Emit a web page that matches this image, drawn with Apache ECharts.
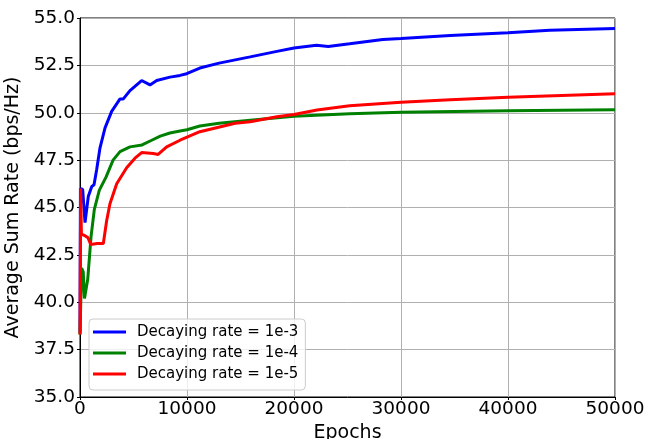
<!DOCTYPE html>
<html>
<head>
<meta charset="utf-8">
<script src="https://cdn.jsdelivr.net/npm/echarts@6/dist/echarts.min.js"></script>
<style>
html,body{margin:0;padding:0;background:#fff;}
#chart{width:657px;height:439px;}
</style>
</head>
<body>
<div id="chart"></div>
<script>
const seriesNames = ['Decaying rate = 1e-3', 'Decaying rate = 1e-4', 'Decaying rate = 1e-5'];
const xTicks = [0, 10000, 20000, 30000, 40000, 50000];
const yTicks = [35.0, 37.5, 40.0, 42.5, 45.0, 47.5, 50.0, 52.5, 55.0];

const blueEpochs = [0, 40, 250, 470, 780, 1090, 1310, 1560, 1870, 2340, 2960, 3740, 4050, 4670, 5760, 6540, 7170, 8410, 9350, 9970, 11200, 13000, 15900, 18400, 20000, 22100, 23200, 25200, 28300, 30000, 34600, 40000, 43900, 50000];
const blueValues = [38.4, 46.0, 45.95, 44.2, 45.6, 46.1, 46.2, 47.0, 48.15, 49.2, 50.07, 50.73, 50.73, 51.17, 51.7, 51.47, 51.7, 51.88, 51.97, 52.06, 52.36, 52.62, 52.95, 53.24, 53.42, 53.56, 53.5, 53.64, 53.87, 53.92, 54.08, 54.22, 54.35, 54.45];

const greenEpochs = [0, 150, 300, 420, 550, 720, 1030, 1340, 1800, 2430, 3090, 3740, 4670, 5800, 6700, 7500, 8400, 9350, 10000, 11200, 13000, 15900, 20000, 25200, 30000, 40000, 50000];
const greenValues = [38.3, 41.8, 41.6, 40.2, 40.3, 41.2, 43.45, 44.9, 45.9, 46.6, 47.5, 47.95, 48.2, 48.3, 48.55, 48.77, 48.93, 49.04, 49.1, 49.3, 49.45, 49.61, 49.82, 49.95, 50.02, 50.11, 50.16];

const redEpochs = [0, 60, 130, 500, 750, 1000, 1100, 1600, 1950, 2180, 2490, 2800, 3430, 4360, 5140, 5760, 6850, 7300, 8100, 9350, 11200, 14500, 15900, 18400, 20000, 22150, 25200, 30000, 34600, 40000, 50000];
const redValues = [38.3, 46.0, 43.6, 43.5, 43.4, 43.05, 43.15, 43.1, 43.1, 43.1, 44.3, 45.2, 46.25, 47.1, 47.6, 47.9, 47.85, 47.8, 48.2, 48.55, 49.0, 49.45, 49.52, 49.79, 49.91, 50.14, 50.37, 50.55, 50.68, 50.82, 51.0];

const colors = ['#0000ff', '#008000', '#ff0000'];
const FONT = 'DejaVu Sans';

function pairs(xs, ys) { return xs.map((x, i) => [x, ys[i]]); }
const allData = [pairs(blueEpochs, blueValues), pairs(greenEpochs, greenValues), pairs(redEpochs, redValues)];

const chart = echarts.init(document.getElementById('chart'), null, {renderer: 'canvas'});
chart.setOption({
  animation: false,
  backgroundColor: '#ffffff',
  textStyle: {fontFamily: FONT},
  grid: {left: 80, right: 42, top: 18, bottom: 42, containLabel: false, outerBoundsMode: 'none',
         show: true, borderColor: '#000', borderWidth: 1, backgroundColor: 'transparent'},
  legend: {
    orient: 'vertical', left: 89, top: 319,
    data: seriesNames,
    icon: 'rect', itemWidth: 33, itemHeight: 3, itemGap: 6,
    padding: [5.5, 7, 8.5, 4],
    backgroundColor: 'rgba(255,255,255,0.8)',
    borderColor: '#cccccc', borderWidth: 1, borderRadius: 4,
    textStyle: {fontFamily: FONT, fontSize: 15, lineHeight: 15, color: '#000', padding: [0, 0, 0, 6]}
  },
  xAxis: {
    type: 'value', min: xTicks[0], max: xTicks[xTicks.length - 1], interval: 10000,
    name: 'Epochs', nameLocation: 'middle', nameGap: 23,
    nameTextStyle: {fontFamily: FONT, fontSize: 19, color: '#000'},
    axisLine: {show: true, lineStyle: {color: '#000', width: 1}},
    axisTick: {show: true, length: 3, inside: false, lineStyle: {color: '#000'}},
    axisLabel: {fontFamily: FONT, fontSize: 18.5, color: '#000', margin: 3, formatter: v => String(v)},
    splitLine: {show: true, lineStyle: {color: '#b0b0b0', width: 1}}
  },
  yAxis: {
    type: 'value', min: yTicks[0], max: yTicks[yTicks.length - 1], interval: 2.5,
    name: 'Average Sum Rate (bps/Hz)', nameLocation: 'middle', nameGap: 51,
    nameTextStyle: {fontFamily: FONT, fontSize: 19, color: '#000'},
    axisLine: {show: true, lineStyle: {color: '#000', width: 1}},
    axisTick: {show: true, length: 3, inside: false, lineStyle: {color: '#000'}},
    axisLabel: {fontFamily: FONT, fontSize: 18.5, color: '#000', margin: 5, formatter: v => v.toFixed(1)},
    splitLine: {show: true, lineStyle: {color: '#b0b0b0', width: 1}}
  },
  series: seriesNames.map((n, i) => ({
    name: n, type: 'line', data: allData[i], showSymbol: false, symbol: 'none',
    lineStyle: {color: colors[i], width: 3}, itemStyle: {color: colors[i]},
    clip: true, z: 2 + i
  }))
});
</script>
</body>
</html>
